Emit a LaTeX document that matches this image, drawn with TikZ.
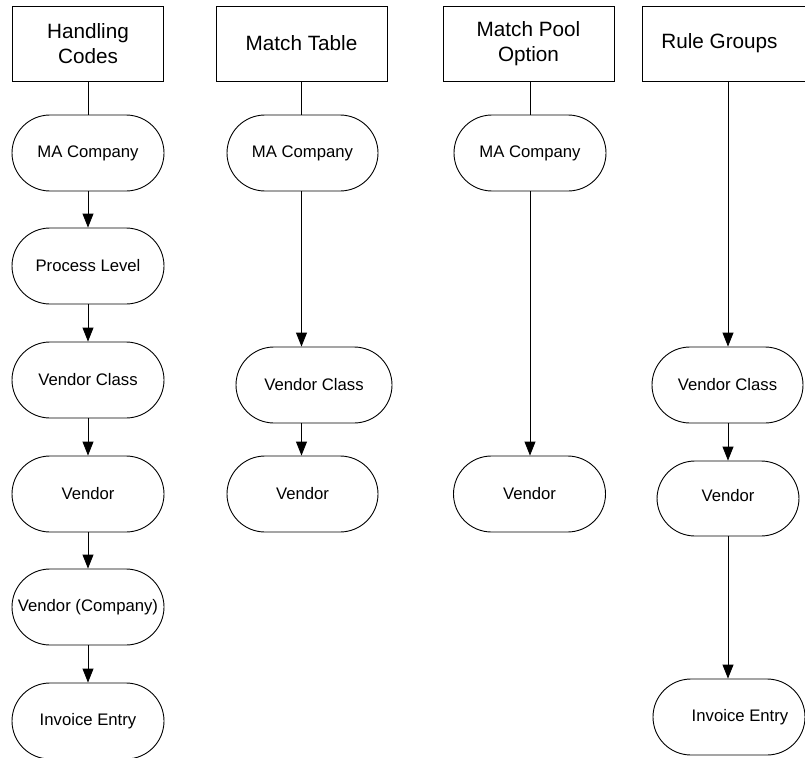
\documentclass[tikz,border=0pt]{standalone}
\usepackage{fontspec}
\setmainfont{Liberation Sans}
\usetikzlibrary{arrows.meta}
\begin{document}
\begin{tikzpicture}[x=1pt,y=1pt,
  line width=0.9pt,
  hdr/.style={draw, rectangle, minimum width=171pt, minimum height=75pt,
    inner sep=0pt, align=center, font=\fontsize{20.7}{25}\selectfont},
  stadium/.style={draw, rectangle, rounded corners=38pt, minimum width=152pt,
    minimum height=76pt, inner sep=0pt, align=center,
    font=\fontsize{16.7}{20}\selectfont},
  link/.style={draw},
  flow/.style={draw, -{Triangle[length=14pt,width=11pt]}}]
\useasboundingbox (0,0) rectangle (805,-757);

% column 1: handling codes
\node[hdr, minimum width=151pt] (hc) at (88,-43.5) {Handling\\Codes};
\node[stadium] (c1a) at (88,-153) {MA Company};
\node[stadium] (c1b) at (88,-266) {Process Level};
\node[stadium] (c1c) at (88,-380) {Vendor Class};
\node[stadium] (c1d) at (88,-494) {Vendor};
\node[stadium] (c1e) at (88,-607) {Vendor (Company)};
\node[stadium] (c1f) at (88,-721) {Invoice Entry};
\path[link] (hc.south) -- (c1a.north);
\path[flow] (c1a.south) -- (c1b.north);
\path[flow] (c1b.south) -- (c1c.north);
\path[flow] (c1c.south) -- (c1d.north);
\path[flow] (c1d.south) -- (c1e.north);
\path[flow] (c1e.south) -- (c1f.north);

% column 2: match table
\node[hdr] (mt) at (301.5,-43.5) {Match Table};
\node[stadium, minimum width=151pt] (c2a) at (302.5,-153) {MA Company};
\node[stadium, minimum width=156pt] (c2b) at (314,-385) {Vendor Class};
\node[stadium, minimum width=151pt] (c2c) at (302.5,-494) {Vendor};
\path[link] (mt.south) -- (mt.south |- c2a.north);
\path[flow] (mt.south |- c2a.south) -- (mt.south |- c2b.north);
\path[flow] (mt.south |- c2b.south) -- (mt.south |- c2c.north);

% column 3: match pool option
\node[hdr] (mp) at (528.5,-43.5) {Match Pool\\Option};
\node[stadium] (c3a) at (530,-153) {MA Company};
\node[stadium] (c3b) at (529.5,-494) {Vendor};
\path[link] (c3a.north |- mp.south) -- (c3a.north);
\path[flow] (c3a.south) -- (c3a.south |- c3b.north);

% column 4: rule groups
\node[hdr, minimum width=174pt] (rg) at (729,-43.5) {Rule Groups\hspace*{19pt}};
\node[stadium, minimum width=151pt] (c4a) at (727.5,-385) {Vendor Class};
\node[stadium, minimum width=142pt, minimum height=75pt] (c4b) at (728,-498.5) {\raisebox{6pt}{Vendor}};
\node[stadium] (c4c) at (729,-717) {\hspace*{22pt}Invoice Entry};
\coordinate (r4) at (728,-81);
\path[flow] (r4) -- (r4 |- c4a.north);
\path[flow] (r4 |- c4a.south) -- (r4 |- c4b.north);
\path[flow] (r4 |- c4b.south) -- (r4 |- c4c.north);
\end{tikzpicture}
\end{document}
